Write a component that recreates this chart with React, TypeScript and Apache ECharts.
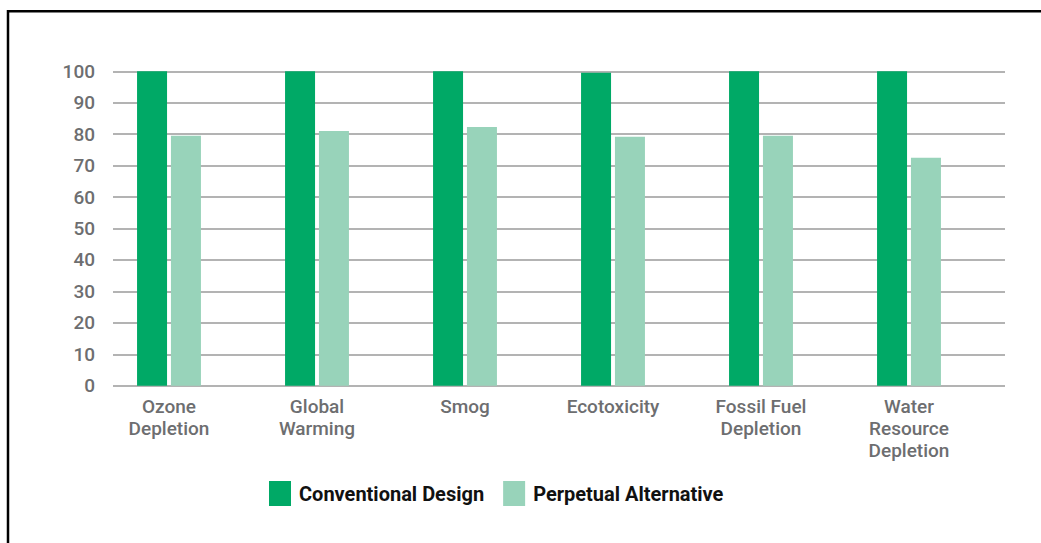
import React, { useEffect, useRef } from "react";
import * as echarts from "echarts";

const categories = [
  "Ozone\nDepletion",
  "Global\nWarming",
  "Smog",
  "Ecotoxicity",
  "Fossil Fuel\nDepletion",
  "Water\nResource\nDepletion",
];
const conventional = [100, 100, 100, 99.5, 100, 100];
const perpetual = [79.5, 81, 82.3, 79.2, 79.5, 72.5];
const seriesNames = ["Conventional Design", "Perpetual Alternative"];
const colors = ["#00A966", "#98D3BA"];

const FONT = "Roboto, 'Noto Sans', sans-serif";

export default function App() {
  const ref = useRef<HTMLDivElement>(null);
  useEffect(() => {
    if (!ref.current) return;
    const chart = echarts.init(ref.current, undefined, { renderer: "svg" });
    const gridTop = 71.3;
    const gridH = 314.4;
    chart.setOption({
      animation: false,
      backgroundColor: "#ffffff",
      textStyle: { fontFamily: FONT },
      graphic: [
        {
          type: "polyline",
          shape: { points: [[8, 600], [8, 11.2], [1100, 11.2]] },
          style: { stroke: "#000", lineWidth: 2.5, fill: "none" },
          z: 10,
        },
      ],
      grid: [
        { left: 113, top: gridTop, width: 892, height: gridH },
        { left: 95, top: gridTop, width: 888, height: gridH },
      ],
      legend: {
        data: seriesNames,
        left: 264,
        top: 476,
        itemWidth: 22,
        itemHeight: 25,
        itemGap: 19,
        icon: "rect",
        textStyle: {
          fontFamily: FONT,
          fontSize: 20,
          fontWeight: "bold",
          color: "#111",
          padding: [0, 0, 0, 3],
        },
      },
      xAxis: [
        {
          gridIndex: 0,
          type: "category",
          data: categories,
          show: false,
        },
        {
          gridIndex: 1,
          type: "category",
          data: categories,
          axisLine: { show: false },
          axisTick: { show: false },
          axisLabel: {
            interval: 0,
            margin: 10,
            color: "#6d6e70",
            fontSize: 19,
            fontWeight: 500,
            lineHeight: 22,
            fontFamily: FONT,
          },
        },
      ],
      yAxis: [
        {
          gridIndex: 0,
          type: "value",
          min: 0,
          max: 100,
          interval: 10,
          axisLine: { show: false },
          axisTick: { show: false },
          axisLabel: {
            margin: 18,
            color: "#6d6e70",
            fontSize: 19,
            fontWeight: 500,
            fontFamily: FONT,
          },
          splitLine: { lineStyle: { color: "#b3b3b3", width: 2 } },
        },
        {
          gridIndex: 1,
          type: "value",
          min: 0,
          max: 100,
          interval: 10,
          show: false,
        },
      ],
      series: [
        {
          type: "line",
          xAxisIndex: 0,
          yAxisIndex: 0,
          data: [],
          silent: true,
        },
        {
          name: seriesNames[0],
          type: "bar",
          xAxisIndex: 1,
          yAxisIndex: 1,
          data: conventional,
          barWidth: 30,
          barGap: "13%",
          itemStyle: { color: colors[0] },
        },
        {
          name: seriesNames[1],
          type: "bar",
          xAxisIndex: 1,
          yAxisIndex: 1,
          data: perpetual,
          barWidth: 30,
          barGap: "13%",
          itemStyle: { color: colors[1] },
        },
      ],
    });
    return () => chart.dispose();
  }, []);
  return (
    <div
      ref={ref}
      style={{ position: "fixed", left: 0, top: 0, width: 1041, height: 543 }}
    />
  );
}
